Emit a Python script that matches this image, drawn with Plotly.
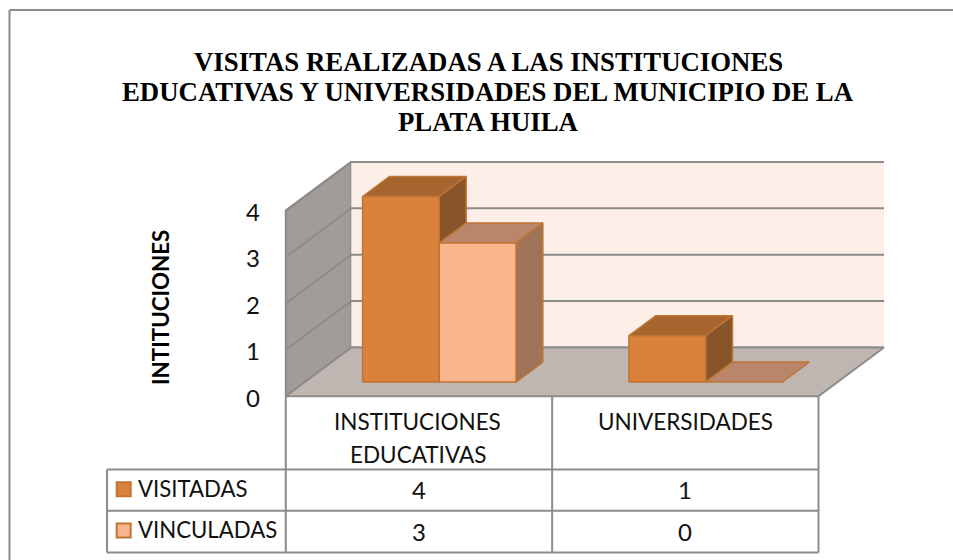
import plotly.graph_objects as go

# ---- data ----
categories = ["INSTITUCIONES<br>EDUCATIVAS", "UNIVERSIDADES"]
series_names = ["VISITADAS", "VINCULADAS"]
visitadas = [4, 1]
vinculadas = [3, 0]
y_ticks = [0, 1, 2, 3, 4]
title_lines = ["VISITAS REALIZADAS A LAS INSTITUCIONES",
               "EDUCATIVAS Y UNIVERSIDADES DEL MUNICIPIO DE LA",
               "PLATA HUILA"]
axis_title = "INTITUCIONES"

# ---- geometry / style ----
W, H = 953, 560
UNIT = 46.4
ZERO_PX = 396.2
X0, X1 = 285.8, 818.5
CAT_W = (X1 - X0) / len(categories)
DX, DY = 65.5, 48.7
D_FRONT, D_BACK = 0.29, 0.70
GAP, BAR_W = 57.8, 76.7
TABLE_L = 107
ROWS = [469.5, 510.8, 552.4]
GREY = "#8C8C8C"
BODY = "Lato"
SERIES_STYLE = [
    dict(front="#DA813B", top="#A6642F", side="#88552A"),
    dict(front="#FAB58C", top="#BA866B", side="#9E7358"),
]
BAR_LINE = "#BE7535"


def px_y(p):
    return (ZERO_PX - p) / UNIT


def proj(x, v, d=0.0):
    return x + d * DX, v + d * DY / UNIT


def face(pts, fill, line, width, name):
    xs, ys = zip(*(pts + pts[:1]))
    return go.Scatter(x=xs, y=ys, mode="lines", fill="toself", fillcolor=fill,
                      line=dict(color=line, width=width), name=name,
                      hoverinfo="skip", showlegend=False)


top_v = max(y_ticks)
fig = go.Figure()

# walls and floor
fig.add_trace(face([proj(X0, 0), proj(X0, top_v), proj(X0, top_v, 1), proj(X0, 0, 1)],
                   "#A29C98", GREY, 2, "left wall"))
fig.add_trace(face([proj(X0, 0, 1), proj(X0, top_v, 1), proj(X1, top_v, 1), proj(X1, 0, 1)],
                   "#FDEFE7", "#FDEFE7", 0, "back wall"))
for t in y_ticks:
    a, b, c = proj(X0, t), proj(X0, t, 1), proj(X1, t, 1)
    fig.add_trace(go.Scatter(x=[a[0], b[0], c[0]], y=[a[1], b[1], c[1]], mode="lines",
                             line=dict(color=GREY, width=2), hoverinfo="skip",
                             showlegend=False, name=f"grid {t}"))
fig.add_trace(face([proj(X0, 0), proj(X0, 0, 1), proj(X1, 0, 1), proj(X1, 0)],
                   "#BFB5B1", GREY, 2, "floor"))

# bars
for i in range(len(categories)):
    for j, values in enumerate([visitadas, vinculadas]):
        v = values[i]
        st = SERIES_STYLE[j]
        left = X0 + i * CAT_W + GAP + j * BAR_W
        right = left + BAR_W
        nm = series_names[j]
        fig.add_trace(face([proj(left, v, D_FRONT), proj(left, v, D_BACK),
                            proj(right, v, D_BACK), proj(right, v, D_FRONT)],
                           st["top"], BAR_LINE, 1.5, nm))
        if v > 0:
            fig.add_trace(face([proj(right, 0, D_FRONT), proj(right, v, D_FRONT),
                                proj(right, v, D_BACK), proj(right, 0, D_BACK)],
                               st["side"], BAR_LINE, 1.5, nm))
            fig.add_trace(face([proj(left, 0, D_FRONT), proj(left, v, D_FRONT),
                                proj(right, v, D_FRONT), proj(right, 0, D_FRONT)],
                               st["front"], BAR_LINE, 1.5, nm))

# legend keys in the data table
for j, nm in enumerate(series_names):
    yc = (ROWS[j] + ROWS[j + 1]) / 2
    fig.add_trace(go.Scatter(x=[123.7], y=[px_y(yc - 1)], mode="markers", name=nm,
                             marker=dict(symbol="square", size=14,
                                         color=SERIES_STYLE[j]["front"],
                                         line=dict(color=BAR_LINE, width=2)),
                             hoverinfo="skip", showlegend=False))

# data table rules
shapes = []
def hline(x0, x1, py):
    shapes.append(dict(type="line", xref="x", yref="y", x0=x0, x1=x1, y0=px_y(py), y1=px_y(py),
                       line=dict(color=GREY, width=2)))
def vline(x, p0, p1):
    shapes.append(dict(type="line", xref="x", yref="y", x0=x, x1=x, y0=px_y(p0), y1=px_y(p1),
                       line=dict(color=GREY, width=2)))
for py in ROWS:
    hline(TABLE_L, X1, py)
vline(TABLE_L, ROWS[0], ROWS[-1])
for k in range(len(categories) + 1):
    vline(X0 + k * CAT_W, ZERO_PX, ROWS[-1])
# chart frame (top and left edges)
hline(9.5, W, 10)
vline(9.5, 10, H)

# text
ann = []
def text(x, py, s, anchor="center", size=22.5, bold=False, angle=0, family=BODY, color="#111111"):
    ann.append(dict(x=x, y=px_y(py), xref="x", yref="y", text=f"<b>{s}</b>" if bold else s,
                    showarrow=False, xanchor=anchor, yanchor="middle", textangle=angle,
                    font=dict(family=family, size=size, color=color)))
for k, c in enumerate(categories):
    cx = X0 + (k + 0.5) * CAT_W
    if "<br>" in c:
        for n, part in enumerate(c.split("<br>")):
            text(cx - 1, 421 + n * 33, part)
    else:
        text(cx, 421, c)
    text(cx, 489, str(visitadas[k]), size=24)
    text(cx, 531, str(vinculadas[k]), size=24)
for j, nm in enumerate(series_names):
    text(136, (ROWS[j] + ROWS[j + 1]) / 2 - 2, nm, anchor="left", size=22.2)
text(160, 308, axis_title, size=22.3, bold=True, angle=-90, color="#000000")
for n, line in enumerate(title_lines):
    text(488, 62 + n * 30, line, size=26.8, bold=True, family="Liberation Serif", color="#000000")

fig.update_layout(
    width=W, height=H, margin=dict(l=0, r=0, t=0, b=0),
    paper_bgcolor="white", plot_bgcolor="white", showlegend=False,
    xaxis=dict(range=[0, W], visible=False, fixedrange=True),
    yaxis=dict(range=[px_y(H), px_y(0)], anchor="free", position=X0 / W,
               tickvals=y_ticks, ticktext=[str(t) for t in y_ticks],
               ticks="", ticklabelstandoff=26, ticklabelshift=2,
               tickfont=dict(family=BODY, size=24, color="#111111"),
               showgrid=False, zeroline=False, showline=False, fixedrange=True),
    shapes=shapes, annotations=ann,
)
fig.write_html("out.html", post_script="document.body.style.margin='0';",
               config=dict(displayModeBar=False))
